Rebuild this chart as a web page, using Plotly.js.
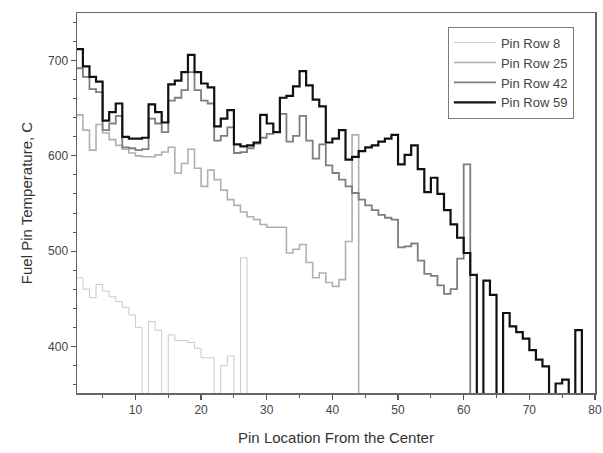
<!DOCTYPE html>
<html>
<head>
<meta charset="utf-8">
<script src="https://cdn.plot.ly/plotly-3.0.1.min.js"></script>
<style>
  html, body { margin: 0; padding: 0; background: #fff; }
  #chart { width: 603px; height: 453px; }
</style>
</head>
<body>
<div id="chart"></div>
<script>
// Pin temperatures (C) per pin location, starting at pin location 1.
// A value of 0 marks a location with no pin (drawn off the bottom of the axis).
const seriesNames = ["Pin Row 8", "Pin Row 25", "Pin Row 42", "Pin Row 59"];

const pinRow8 = [472, 460, 451, 465, 458, 452, 447, 441, 433, 420,
                 0, 426, 417, 0, 412, 406, 406, 404, 398, 388,
                 388, 0, 380, 390, 0, 493, 0];

const pinRow25 = [643, 627, 606, 633, 624, 617, 611, 607, 603, 600,
                  599, 599, 601, 604, 609, 582, 592, 607, 587, 568,
                  585, 575, 564, 554, 548, 541, 536, 533, 528, 525,
                  525, 525, 498, 502, 507, 488, 472, 477, 467, 463,
                  470, 510, 622, 0];

const pinRow42 = [692, 683, 670, 667, 627, 634, 642, 609, 608, 606,
                  607, 639, 634, 625, 658, 661, 669, 688, 669, 658,
                  655, 616, 621, 630, 603, 604, 608, 613, 619, 623,
                  625, 644, 615, 621, 642, 616, 597, 612, 590, 582,
                  575, 568, 561, 554, 548, 543, 538, 535, 533, 504,
                  505, 508, 490, 476, 474, 464, 455, 460, 492, 591, 0];

const pinRow59 = [712, 694, 683, 678, 637, 646, 655, 620, 618, 618,
                  619, 654, 646, 635, 675, 679, 688, 706, 688, 676,
                  672, 631, 639, 648, 612, 610, 611, 614, 643, 634,
                  625, 661, 663, 673, 689, 674, 659, 652, 614, 618,
                  627, 596, 599, 605, 609, 611, 615, 618, 622, 591,
                  601, 611, 586, 562, 577, 560, 543, 528, 514, 498,
                  475, 0, 469, 454, 0, 435, 421, 415, 408, 396,
                  386, 379, 0, 361, 365, 0, 417, 0];

const xTickVals = [10, 20, 30, 40, 50, 60, 70, 80];
const yTickVals = [400, 500, 600, 700];

const seriesValues = [pinRow8, pinRow25, pinRow42, pinRow59];
const seriesColors = ["#c9c9c9", "#b0b0b0", "#7e7e7e", "#111111"];
const seriesWidths = [1, 1.6, 1.8, 2.2];

function pinLocations(vals) {
  const xs = [];
  for (let i = 0; i < vals.length; i++) xs.push(i + 1);
  return xs;
}

const traces = seriesValues.map((vals, i) => ({
  type: "scatter",
  mode: "lines",
  name: seriesNames[i],
  x: pinLocations(vals),
  y: vals,
  line: { shape: "hv", color: seriesColors[i], width: seriesWidths[i] },
  hoverinfo: "x+y+name"
}));

const fontFam = "Liberation Sans, Arial, Helvetica, sans-serif";

const layout = {
  width: 603,
  height: 453,
  margin: { l: 77, r: 8, t: 13, b: 60, pad: 0 },
  paper_bgcolor: "#ffffff",
  plot_bgcolor: "#ffffff",
  font: { family: fontFam, size: 12, color: "#333333" },
  showlegend: true,
  legend: {
    x: 0.716, y: 0.964, xanchor: "left", yanchor: "top",
    bgcolor: "#ffffff", bordercolor: "#7a7a7a", borderwidth: 1,
    font: { family: fontFam, size: 13, color: "#444444" },
    itemwidth: 42,
    tracegroupgap: 0
  },
  xaxis: {
    range: [1.1, 80],
    tickmode: "array",
    tickvals: xTickVals,
    ticktext: xTickVals.map(String),
    ticks: "outside", ticklen: 5, tickwidth: 1.2, tickcolor: "#555555",
    minor: { dtick: 5, tick0: 0, ticks: "outside", ticklen: 3, tickcolor: "#555555", tickwidth: 1 },
    showline: true, linecolor: "#666666", linewidth: 1.5, mirror: true,
    showgrid: false, zeroline: false,
    tickfont: { family: fontFam, size: 12, color: "#444444" },
    title: { text: "Pin Location From the Center", font: { family: fontFam, size: 15, color: "#333333" }, standoff: 16 }
  },
  yaxis: {
    range: [351, 750],
    tickmode: "array",
    tickvals: yTickVals,
    ticktext: yTickVals.map(String),
    ticks: "outside", ticklen: 5, tickwidth: 1.2, tickcolor: "#555555",
    minor: { dtick: 20, tick0: 0, ticks: "outside", ticklen: 3, tickcolor: "#555555", tickwidth: 1 },
    showline: true, linecolor: "#666666", linewidth: 1.5, mirror: true,
    showgrid: false, zeroline: false,
    tickfont: { family: fontFam, size: 12, color: "#444444" },
    title: { text: "Fuel Pin Temperature, C", font: { family: fontFam, size: 15, color: "#333333" }, standoff: 12 }
  }
};

Plotly.newPlot("chart", traces, layout, { staticPlot: true, displayModeBar: false });
</script>
</body>
</html>
